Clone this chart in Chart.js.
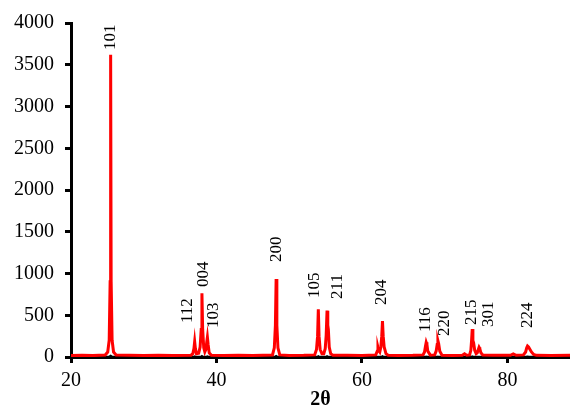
<!DOCTYPE html>
<html>
<head>
<meta charset="utf-8">
<script src="https://cdn.jsdelivr.net/npm/chart.js@4.4.1/dist/chart.umd.min.js"></script>
<style>
  html, body { margin: 0; padding: 0; background: #fff; }
  #wrap { width: 570px; height: 412px; }
</style>
</head>
<body>
<div id="wrap"><canvas id="xrd"></canvas></div>
<script>
// measured pattern (red)
const twoTheta = [20, 21.5, 23, 24.7, 25.05, 25.25, 25.38, 25.45, 25.52, 25.65, 25.85, 26.2, 28, 30, 32, 34,
    36.5, 36.75, 36.9, 37.0, 37.1, 37.25, 37.55, 37.75, 37.9, 38.0, 38.1, 38.25, 38.4, 38.55, 38.65, 38.75, 38.85, 39.0, 39.3,
    41, 43, 45, 47.7, 47.95, 48.1, 48.2, 48.3, 48.45, 48.7, 50, 52,
    53.5, 53.75, 53.9, 54.0, 54.1, 54.25, 54.5, 54.75, 54.95, 55.08, 55.2, 55.3, 55.38, 55.5, 55.7, 56, 58, 60,
    61.9, 62.1, 62.2, 62.3, 62.45, 62.6, 62.72, 62.82, 62.92, 63.05, 63.3, 63.6, 65, 67,
    68.4, 68.6, 68.73, 68.83, 68.93, 69.05, 69.4, 70.0, 70.2, 70.34, 70.44, 70.54, 70.7, 71.0, 72.5,
    73.8, 74.1, 74.4, 74.8, 74.97, 75.07, 75.16, 75.25, 75.35, 75.5, 75.7, 75.85, 76.0, 76.1, 76.2, 76.35, 76.6, 78,
    80.4, 80.8, 81.2, 82.2, 82.5, 82.65, 82.76, 82.9, 83.1, 83.3, 83.6, 84, 86, 88.6];
const intensity = [18, 20, 17, 25, 60, 200, 900, 3620, 900, 200, 60, 25, 20, 18, 20, 18,
    22, 40, 100, 183, 100, 40, 45, 120, 330, 763, 330, 110, 60, 90, 170, 236, 150, 50, 22,
    18, 20, 18, 25, 110, 380, 934, 380, 110, 25, 18, 20,
    25, 90, 250, 571, 250, 90, 40, 40, 100, 260, 555, 380, 330, 120, 40, 22, 20, 18,
    25, 70, 116, 80, 60, 120, 250, 431, 250, 120, 40, 22, 18, 20,
    25, 60, 130, 176, 150, 70, 22, 25, 70, 150, 195, 160, 70, 22, 18,
    22, 38, 22, 25, 80, 200, 335, 200, 170, 80, 40, 50, 90, 116, 100, 50, 25, 20,
    20, 36, 20, 25, 60, 110, 132, 120, 90, 60, 30, 20, 18, 20];

// reference pattern (black, underneath)
const refTheta = [20, 25.2, 25.45, 25.7, 36.85, 37.0, 37.15, 37.85, 38.0, 38.15, 38.6, 38.75, 38.9,
    48.0, 48.2, 48.4, 53.85, 54.0, 54.15, 55.05, 55.2, 55.35, 62.65, 62.82, 63.0,
    68.7, 68.83, 68.95, 70.3, 70.44, 70.58, 75.0, 75.16, 75.3, 82.55, 82.76, 82.95, 88.6];
const refIntensity = [2, 2, 16, 2, 2, 8, 2, 2, 12, 2, 2, 8, 2,
    2, 12, 2, 2, 10, 2, 2, 10, 2, 2, 10, 2,
    2, 6, 2, 2, 6, 2, 2, 8, 2, 2, 6, 2, 2];

// hkl labels: text, label anchor (2θ, intensity)
const hkl = ["101", "112", "004", "103", "200", "105", "211", "204", "116", "220", "215", "301", "224"];
const hklTheta = [25.5, 35.96, 38.16, 39.53, 48.2, 53.42, 56.59, 62.64, 68.69, 71.31, 75.02, 77.36, 82.72];
const hklIntensity = [3677, 407, 838, 347, 1138, 707, 695, 623, 299, 251, 383, 359, 347];

const serif = '"Liberation Serif", "Times New Roman", serif';

const hklLabels = {
    id: "hklLabels",
    afterDatasetsDraw(chart) {
        const { ctx, scales: { x, y } } = chart;
        ctx.save();
        ctx.font = "17px " + serif;
        ctx.fillStyle = "#000";
        ctx.textAlign = "left";
        ctx.textBaseline = "middle";
        hkl.forEach((t, i) => {
            ctx.save();
            ctx.translate(x.getPixelForValue(hklTheta[i]), y.getPixelForValue(hklIntensity[i]));
            ctx.rotate(-Math.PI / 2);
            ctx.fillText(t, 0, 0);
            ctx.restore();
        });
        ctx.restore();
    }
};

new Chart(document.getElementById("xrd"), {
    type: "line",
    data: {
        datasets: [{
            data: twoTheta.map((v, i) => ({ x: v, y: intensity[i] })),
            borderColor: "#ff0000",
            borderWidth: 3,
            pointRadius: 0,
            tension: 0,
        }, {
            data: refTheta.map((v, i) => ({ x: v, y: refIntensity[i] })),
            borderColor: "#000",
            borderWidth: 2,
            pointRadius: 0,
            tension: 0,
        }]
    },
    options: {
        responsive: true,
        maintainAspectRatio: false,
        animation: false,
        layout: { padding: { top: 23, right: 0, left: 0, bottom: 0 } },
        plugins: {
            legend: { display: false },
            tooltip: { enabled: false },
        },
        scales: {
            x: {
                type: "linear",
                min: 20,
                max: 88.6,
                border: { color: "#000", width: 3 },
                grid: { drawOnChartArea: false, tickLength: 6, tickWidth: 3, tickColor: "#000" },
                ticks: {
                    stepSize: 20,
                    includeBounds: false,
                    padding: 6,
                    color: "#000",
                    font: { family: serif, size: 20 },
                    callback: v => String(v),
                },
                title: {
                    display: true,
                    text: "2θ",
                    color: "#000",
                    padding: { top: 0, bottom: 0 },
                    font: { family: serif, size: 20, weight: "bold" },
                },
                afterFit: s => { s.height = 55; },
            },
            y: {
                min: 0,
                max: 4000,
                border: { color: "#000", width: 3 },
                grid: { drawOnChartArea: false, tickLength: 6, tickWidth: 3, tickColor: "#000" },
                ticks: {
                    stepSize: 500,
                    padding: 11,
                    color: "#000",
                    font: { family: serif, size: 20 },
                    callback: v => String(v),
                },
                afterFit: s => { s.width = 71; },
            }
        }
    },
    plugins: [hklLabels]
});
</script>
</body>
</html>
